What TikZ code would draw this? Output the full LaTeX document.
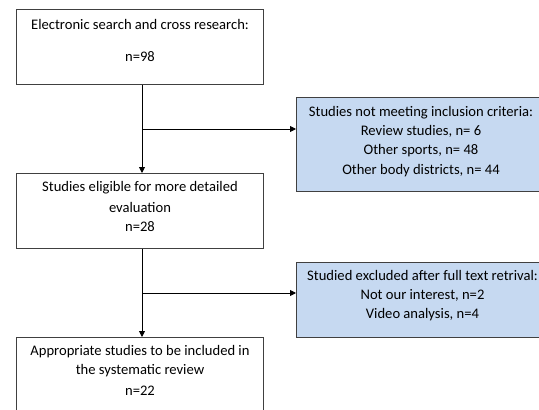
\documentclass[tikz,border=0pt]{standalone}
\usepackage{fontspec}
\setmainfont{Carlito}
\usetikzlibrary{arrows.meta}
\definecolor{bluefill}{HTML}{C6D9F1}
\definecolor{edge}{HTML}{404040}
\tikzset{
  box/.style={draw=edge, line width=1pt, fill=white, anchor=north west, inner sep=0pt},
  bluebox/.style={box, fill=bluefill},
  txt/.style={inner sep=0pt, font=\fontsize{14.6}{18}\selectfont, anchor=center},
  arr/.style={draw=black, line width=0.9pt, -{Triangle[length=6pt,width=6pt]}},
  ln/.style={draw=black, line width=0.9pt}
}
\begin{document}
\begin{tikzpicture}[x=1pt,y=-1pt]
\useasboundingbox (0,0) rectangle (539,410);
\clip (0,0) rectangle (539,410);
\fill[white] (0,0) rectangle (539,410);
% boxes
\node[box, minimum width=247pt, minimum height=75pt] (b1) at (16,9) {};
\node[box, minimum width=247pt, minimum height=75pt] (b2) at (16,173) {};
\node[box, minimum width=247pt, minimum height=90pt] (b3) at (16,337) {};
\node[bluebox, minimum width=250pt, minimum height=94pt] (r1) at (296,97) {};
\node[bluebox, minimum width=250pt, minimum height=75pt] (r2) at (296,262) {};
% texts
\node[txt] (t1a) at (140,24) {Electronic search and cross research:};
\node[txt] (t1b) at (140,57) {n=98};
\node[txt] (t2a) at (140,188) {Studies eligible for more detailed};
\node[txt] (t2b) at (140,207) {evaluation};
\node[txt] (t2c) at (140,227) {n=28};
\node[txt] (t3a) at (140,351.5) {Appropriate studies to be included in};
\node[txt] (t3b) at (140,371) {the systematic review};
\node[txt] (t3c) at (140,390.5) {n=22};
\node[txt] (r1a) at (421,112.3) {Studies not meeting inclusion criteria:};
\node[txt] (r1b) at (421,131.7) {Review studies, n= 6};
\node[txt] (r1c) at (421,151) {Other sports, n= 48};
\node[txt] (r1d) at (421,170.7) {Other body districts, n= 44};
\node[txt] (r2a) at (422.5,275.7) {Studied excluded after full text retrival:};
\node[txt] (r2b) at (422.5,295.5) {Not our interest, n=2};
\node[txt] (r2c) at (422.5,315) {Video analysis, n=4};
% connectors
\coordinate (j1) at (142,129);
\coordinate (j2) at (142,293);
\draw[arr] (b1.south -| j1) -- (b2.north -| j1);
\draw[arr] (j1) -- (r1.west |- j1);
\draw[arr] (b2.south -| j2) -- (b3.north -| j2);
\draw[arr] (j2) -- (r2.west |- j2);
\end{tikzpicture}
\end{document}
